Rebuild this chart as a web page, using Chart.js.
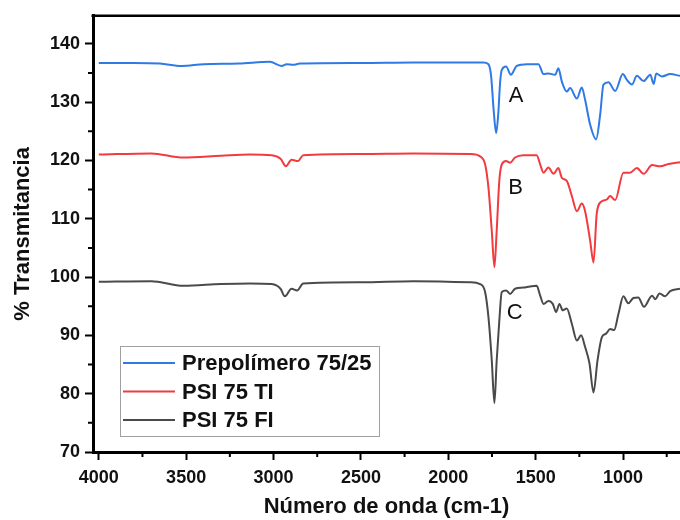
<!DOCTYPE html>
<html>
<head>
<meta charset="utf-8">
<script src="https://cdn.jsdelivr.net/npm/chart.js@4.4.0/dist/chart.umd.min.js"></script>
<style>
  html,body{margin:0;padding:0;background:#fff;overflow:hidden;}
  #wrap{width:680px;height:520px;}
</style>
</head>
<body>
<div id="wrap"><canvas id="ftir" width="680" height="520"></canvas></div>
<script>
// wavenumbers (cm-1) and % transmittance
const waveA=[4000,3800,3650,3525,3400,3200,3021,2954,2925,2887,2849,2500,2200,1800,1770,1755,1740,1726,1714,1703,1694,1669,1642,1608,1550,1484,1455,1427,1388,1370,1350,1322,1303,1264,1236,1217,1188,1154,1131,1112,1083,1045,1001,978,949,921,882,844,825,810,777,730,674];
const transA=[136.7,136.7,136.6,136.2,136.5,136.6,136.9,136.2,136.5,136.4,136.6,136.7,136.8,136.8,136.5,134.5,128.5,124.7,128.0,133.5,135.5,136.1,134.7,136.2,136.5,136.5,134.8,134.9,134.7,135.8,133.5,131.8,132.4,130.6,132.5,130.4,126.1,123.6,127.8,133.0,133.4,131.9,134.8,133.8,133.0,134.5,133.6,134.7,133.1,134.9,134.4,134.8,134.5];

const waveB=[4000,3700,3517,3300,3135,3011,2960,2929,2897,2859,2830,2500,2200,1875,1818,1789,1770,1751,1736,1723,1708,1694,1669,1646,1618,1570,1494,1474,1455,1427,1398,1370,1350,1322,1293,1264,1236,1217,1188,1169,1150,1121,1093,1074,1045,998,960,921,882,834,787,740,674];
const transB=[121.0,121.2,120.5,120.8,121.0,120.9,120.3,119.0,120.1,119.9,120.9,121.1,121.2,121.1,120.7,119.3,115.3,107.9,101.7,107.9,116.5,119.3,119.9,119.6,120.5,120.9,120.9,119.3,117.9,118.8,117.7,118.7,117.0,116.5,113.9,111.3,112.6,111.3,106.2,102.5,111.0,113.0,113.3,113.9,113.2,117.9,117.9,118.7,117.7,119.2,119.0,119.4,119.7];

const waveC=[4000,3700,3517,3300,3135,3011,2960,2935,2897,2865,2830,2500,2200,1875,1818,1789,1770,1751,1736,1723,1708,1694,1669,1646,1618,1570,1532,1494,1474,1455,1427,1402,1383,1364,1345,1322,1293,1264,1240,1217,1192,1169,1146,1121,1097,1074,1051,1026,998,970,941,913,880,834,815,791,759,730,674];
const transC=[99.2,99.3,98.5,98.8,98.9,98.8,98.0,96.7,98.0,97.7,98.9,99.1,99.3,99.1,98.8,97.4,93.1,85.7,78.4,85.7,92.5,97.4,97.7,97.1,98.0,98.2,98.4,98.5,96.8,95.4,95.9,95.4,94.0,95.4,94.3,94.6,92.0,89.1,90.0,88.0,85.2,80.2,85.7,89.7,90.3,91.1,90.9,93.7,96.7,95.5,96.4,96.5,94.9,96.8,96.2,97.2,96.7,97.6,98.0];

const seriesNames=['Prepolímero 75/25','PSI 75 TI','PSI 75 FI'];
const seriesColors=['#2f7ae5','#f23a3f','#4a4a4a'];
// curve letters and where they sit (data coords)
const letters=['A','B','C'];
const letterWave=[1612,1615,1620];
const letterTrans=[131.0,115.3,93.8];

const xTicks=[4000,3500,3000,2500,2000,1500,1000];
const yTicks=[70,80,90,100,110,120,130,140];
const minorX=[3750,3250,2750,2250,1750,1250,750];
const minorY=[75,85,95,105,115,125,135];

const FONT='"Liberation Sans", Arial, sans-serif';

const toPts=(xs,ys)=>xs.map((x,i)=>({x:x,y:ys[i]}));

const extras={
    id:'extras',
    afterDraw:(chart)=>{
        const ctx=chart.ctx;
        const a=chart.chartArea;
        const sx=chart.scales.x, sy=chart.scales.y;
        ctx.save();
        // top frame line
        ctx.strokeStyle='#000';
        ctx.lineWidth=2.5;
        ctx.beginPath();
        ctx.moveTo(a.left-1.5,a.top);
        ctx.lineTo(a.right,a.top);
        ctx.stroke();
        // minor ticks
        ctx.lineWidth=2;
        ctx.beginPath();
        minorX.forEach(v=>{
            const px=sx.getPixelForValue(v);
            ctx.moveTo(px,a.bottom);
            ctx.lineTo(px,a.bottom+5);
        });
        minorY.forEach(v=>{
            const py=sy.getPixelForValue(v);
            ctx.moveTo(a.left,py);
            ctx.lineTo(a.left-5,py);
        });
        ctx.stroke();
        // curve letters
        ctx.fillStyle='#111';
        ctx.font='22px '+FONT;
        ctx.textAlign='center';
        ctx.textBaseline='middle';
        letters.forEach((t,i)=>{
            ctx.fillText(t,sx.getPixelForValue(letterWave[i]),sy.getPixelForValue(letterTrans[i]));
        });
        // legend box
        const lx=a.left+27, ly=a.bottom-106, lw=259, lh=90;
        ctx.fillStyle='#fff';
        ctx.fillRect(lx,ly,lw,lh);
        ctx.strokeStyle='#a0a0a0';
        ctx.lineWidth=1;
        ctx.strokeRect(lx+0.5,ly+0.5,lw,lh);
        ctx.font='bold 22px '+FONT;
        ctx.textAlign='left';
        seriesNames.forEach((n,i)=>{
            const y=ly+17+i*28.5;
            ctx.strokeStyle=seriesColors[i];
            ctx.lineWidth=2;
            ctx.beginPath();
            ctx.moveTo(lx+3,y);
            ctx.lineTo(lx+55,y);
            ctx.stroke();
            ctx.fillStyle='#111';
            ctx.fillText(n,lx+62,y+1);
        });
        ctx.restore();
    }
};

new Chart(document.getElementById('ftir'),{
    type:'line',
    data:{
        datasets:[
            {label:seriesNames[0],data:toPts(waveA,transA),borderColor:seriesColors[0]},
            {label:seriesNames[1],data:toPts(waveB,transB),borderColor:seriesColors[1]},
            {label:seriesNames[2],data:toPts(waveC,transC),borderColor:seriesColors[2]}
        ]
    },
    options:{
        responsive:false,
        animation:false,
        layout:{padding:{top:13,left:0,right:0,bottom:0}},
        elements:{
            point:{radius:0},
            line:{borderWidth:2,cubicInterpolationMode:'monotone'}
        },
        plugins:{
            legend:{display:false},
            tooltip:{enabled:false}
        },
        scales:{
            x:{
                type:'linear',
                reverse:true,
                min:674,
                max:4033,
                afterFit:(s)=>{s.height=68;},
                afterBuildTicks:(s)=>{s.ticks=xTicks.map(v=>({value:v}));},
                border:{display:true,color:'#000',width:3},
                grid:{drawOnChartArea:false,drawTicks:true,tickLength:8,tickWidth:2,tickColor:'#000'},
                ticks:{autoSkip:false,maxRotation:0,color:'#111',padding:7,callback:(v)=>String(v),font:{family:FONT,size:18,weight:'bold'}},
                title:{display:true,text:'Número de onda (cm-1)',color:'#111',padding:{top:0,bottom:0},font:{family:FONT,size:22,weight:'bold'}}
            },
            y:{
                min:70,
                max:144.8,
                afterFit:(s)=>{s.width=93;},
                afterBuildTicks:(s)=>{s.ticks=yTicks.map(v=>({value:v}));},
                border:{display:true,color:'#000',width:3},
                grid:{drawOnChartArea:false,drawTicks:true,tickLength:8,tickWidth:2,tickColor:'#000'},
                ticks:{autoSkip:false,color:'#111',padding:5,callback:(v)=>String(v),font:{family:FONT,size:18,weight:'bold'}},
                title:{display:true,text:'% Transmitancia',color:'#111',padding:{top:10,bottom:0},font:{family:FONT,size:22,weight:'bold'}}
            }
        }
    },
    plugins:[extras]
});
</script>
</body>
</html>
